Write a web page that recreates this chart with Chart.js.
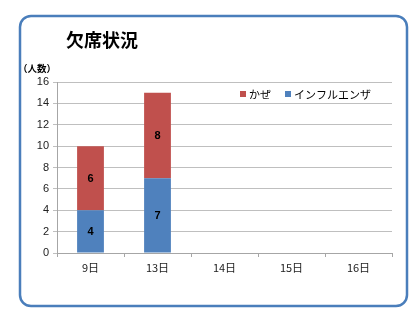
<!DOCTYPE html>
<html><head><meta charset="utf-8">
<script src="https://cdn.jsdelivr.net/npm/chart.js@4/dist/chart.umd.min.js"></script>
<style>html,body{margin:0;padding:0;background:#fff}#wrap{width:420px;height:315px}</style>
</head><body><div id="wrap"><canvas id="c" width="420" height="315"></canvas></div>
<script>
const categories = ['9日','13日','14日','15日','16日'];
const flu = [4, 7, null, null, null];
const cold = [6, 8, null, null, null];
const yTicks = [0,2,4,6,8,10,12,14,16];
const title = '欠席状況';
const unitLabel = '（人数）';
const JP = '"Noto Sans CJK JP", "Liberation Sans", sans-serif';

const decor = {
  id: 'decor',
  beforeDraw(chart) {
    const ctx = chart.ctx;
    ctx.save();
    ctx.fillStyle = '#fff';
    ctx.fillRect(0,0,chart.width,chart.height);
    ctx.restore();
  },
  afterDraw(chart) {
    const ctx = chart.ctx;
    ctx.save();
    // border
    ctx.strokeStyle = '#4A7EBB';
    ctx.lineWidth = 2.5;
    ctx.beginPath();
    ctx.roundRect(20, 16, 387, 290, 11);
    ctx.stroke();
    // title
    ctx.fillStyle = '#000';
    ctx.font = 'bold 18px ' + JP;
    ctx.textBaseline = 'middle';
    ctx.textAlign = 'left';
    ctx.fillText(title, 66, 40);
    // unit
    ctx.font = 'bold 9.5px ' + JP;
    ctx.fillText(unitLabel, 18, 68);
    // legend (reverse order)
    ctx.font = '11px ' + JP;
    let x = 240;
    const ds = chart.data.datasets.slice().reverse();
    ds.forEach(d => {
      ctx.fillStyle = d.backgroundColor;
      ctx.fillRect(x, 91, 6, 6);
      ctx.fillStyle = '#000';
      ctx.fillText(d.label, x + 9, 94.5);
      x += 9 + ctx.measureText(d.label).width + 14;
    });
    // data labels
    ctx.font = 'bold 11px "Liberation Sans", sans-serif';
    ctx.textAlign = 'center';
    ctx.fillStyle = '#000';
    chart.data.datasets.forEach((d, i) => {
      const meta = chart.getDatasetMeta(i);
      meta.data.forEach((bar, j) => {
        const v = d.data[j];
        if (v == null) return;
        ctx.fillText(String(v), bar.x, (bar.y + bar.base) / 2 + 1);
      });
    });
    ctx.restore();
  }
};

new Chart(document.getElementById('c'), {
  type: 'bar',
  data: {
    labels: categories,
    datasets: [
      { label: 'インフルエンザ', data: flu, backgroundColor: '#4F81BD', barPercentage: 0.4, categoryPercentage: 1 },
      { label: 'かぜ', data: cold, backgroundColor: '#C0504D', barPercentage: 0.4, categoryPercentage: 1 }
    ]
  },
  options: {
    responsive: false,
    animation: false,
    events: [],
    layout: { padding: { left: 20, right: 28, top: 82, bottom: 30 } },
    plugins: { legend: { display: false }, title: { display: false }, tooltip: { enabled: false } },
    scales: {
      x: {
        stacked: true,
        grid: { display: true, drawOnChartArea: false, drawTicks: true, tickLength: 4, color: '#A6A6A6', offset: true },
        border: { display: true, color: '#A6A6A6' },
        ticks: { color: '#222', font: { size: 11, family: JP }, padding: 4 },
        afterFit(s) { s.height = 32; }
      },
      y: {
        stacked: true,
        min: 0, max: 16,
        afterBuildTicks(s) { s.ticks = yTicks.map(v => ({ value: v })); },
        grid: { color: '#BFBFBF', tickLength: 4 },
        border: { display: true, color: '#A6A6A6' },
        ticks: { color: '#222', font: { size: 11, family: '"Liberation Sans", sans-serif' }, padding: 4 },
        afterFit(s) { s.width = 37; }
      }
    }
  },
  plugins: [decor]
});
</script></body></html>
